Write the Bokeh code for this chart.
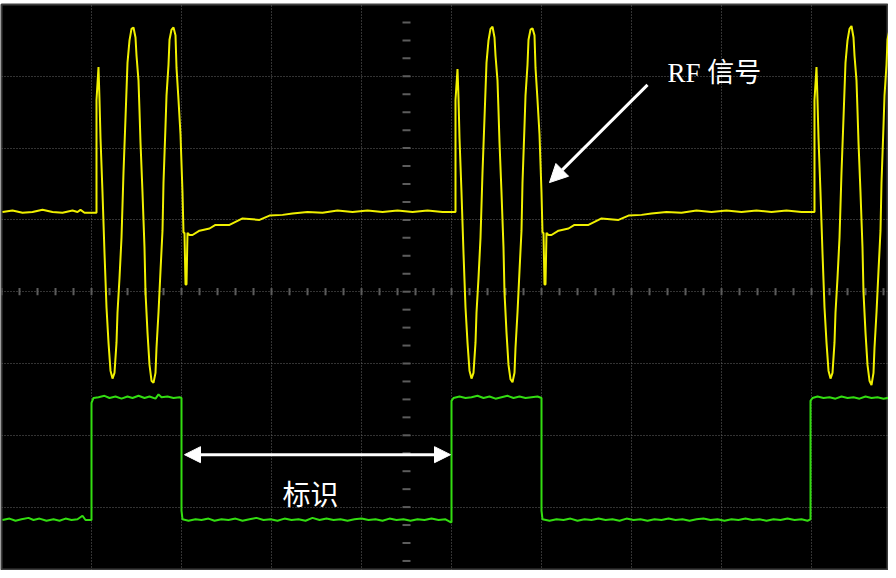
from bokeh.plotting import figure
from bokeh.models import Range1d, FixedTicker, Arrow, NormalHead, Label
from bokeh.embed import file_html
from bokeh.resources import INLINE
import numpy as np

# Oscilloscope record: time in samples (90 samples per division), level in divisions
# Yellow channel: RF signal, three bursts
rf_period1 = [
    (1, 1.11), (11, 1.13), (21, 1.10), (31, 1.11), (41, 1.14), (51, 1.11), (61, 1.10),
    (71, 1.13), (76, 1.11), (79, 1.14), (83, 1.10), (88, 1.10), (94, 1.10),
    (95, 1.10), (95, 2.67), (97, 3.13), (98, 2.67), (99, 2.14), (101, 1.38), (103, 0.54),
    (105, -0.22), (107, -0.71), (109, -1.10), (111, -1.21), (113, -1.13), (115, -0.71),
    (116, -0.29), (118, 0.19), (120, 0.75), (122, 1.66), (124, 2.42), (126, 3.19),
    (128, 3.50), (130, 3.66), (132, 3.68), (134, 3.54), (135, 3.29), (137, 2.94),
    (138, 2.52), (139, 2.08), (141, 1.38), (143, 0.61), (144, -0.01), (146, -0.57),
    (148, -1.02), (150, -1.24), (152, -1.27), (154, -1.13), (155, -0.78), (157, -0.29),
    (159, 0.29), (161, 0.85), (162, 1.52), (164, 2.31), (165, 2.73), (167, 3.16),
    (168, 3.51), (170, 3.65), (172, 3.68), (174, 3.57), (175, 3.12), (177, 2.67),
    (179, 2.19), (181, 1.38), (182, 0.82), (183, 0.82), (184, 0.10), (185, 0.10),
    (186, 0.82), (188, 0.79), (191, 0.79), (198, 0.85), (208, 0.88), (214, 0.93),
    (228, 0.93), (241, 1.02), (258, 1.00), (268, 1.06), (281, 1.07), (291, 1.09),
    (306, 1.11), (321, 1.10), (336, 1.13), (351, 1.11), (366, 1.13), (381, 1.11),
    (396, 1.13), (411, 1.11), (426, 1.13), (441, 1.11), (453, 1.11),
]
rf_period2 = [
    (454, 1.11), (454, 2.67), (456, 3.10), (457, 2.70), (458, 2.14), (460, 1.38), (462, 0.54),
    (464, -0.22), (466, -0.71), (468, -1.10), (470, -1.21), (472, -1.13), (474, -0.71),
    (475, -0.29), (477, 0.19), (479, 0.75), (481, 1.66), (483, 2.42), (485, 3.19),
    (487, 3.50), (489, 3.66), (491, 3.69), (493, 3.54), (494, 3.29), (496, 2.94),
    (497, 2.52), (498, 2.08), (500, 1.38), (502, 0.61), (503, -0.01), (505, -0.57),
    (507, -1.02), (509, -1.22), (511, -1.26), (513, -1.13), (514, -0.78), (516, -0.29),
    (518, 0.29), (520, 0.85), (521, 1.52), (523, 2.31), (524, 2.73), (526, 3.16),
    (527, 3.51), (529, 3.65), (531, 3.67), (533, 3.57), (534, 3.12), (536, 2.67),
    (538, 2.19), (540, 1.38), (541, 0.82), (542, 0.82), (543, 0.10), (544, 0.10),
    (545, 0.82), (547, 0.79), (550, 0.79), (557, 0.85), (567, 0.88), (573, 0.93),
    (587, 0.93), (600, 1.02), (617, 1.00), (627, 1.06), (640, 1.07), (650, 1.09),
    (665, 1.11), (680, 1.10), (695, 1.13), (710, 1.11), (725, 1.13), (740, 1.11),
    (755, 1.13), (770, 1.11), (785, 1.13), (800, 1.11), (812, 1.11),
]
rf_period3 = [
    (813, 1.11), (813, 2.67), (815, 3.13), (816, 2.67), (817, 2.14), (819, 1.38), (821, 0.54),
    (823, -0.22), (825, -0.71), (827, -1.10), (829, -1.21), (831, -1.13), (833, -0.71),
    (834, -0.29), (836, 0.19), (838, 0.75), (840, 1.66), (842, 2.42), (844, 3.19),
    (846, 3.50), (848, 3.66), (850, 3.70), (852, 3.54), (853, 3.29), (855, 2.94),
    (856, 2.52), (857, 2.08), (859, 1.38), (861, 0.61), (862, -0.01), (864, -0.57),
    (866, -1.02), (868, -1.24), (870, -1.30), (872, -1.13), (873, -0.78), (875, -0.29),
    (877, 0.29), (879, 0.85), (880, 1.52), (882, 2.31), (883, 2.73), (885, 3.16),
    (886, 3.51), (888, 3.65), (890, 3.68), (892, 3.57), (893, 3.12),
]

# Green channel: identification (tag) signal
tag_signal = [
    (1, -3.18), (8, -3.16), (14, -3.19), (20, -3.17), (27, -3.15), (32, -3.18), (38, -3.16),
    (45, -3.19), (52, -3.17), (58, -3.19), (64, -3.16), (70, -3.18), (76, -3.17), (81, -3.12),
    (84, -3.18), (89, -3.18),
    (90, -3.18), (90, -1.55), (92, -1.48), (97, -1.47), (103, -1.45), (108, -1.48),
    (114, -1.46), (120, -1.49), (126, -1.46), (131, -1.48), (137, -1.45), (143, -1.48),
    (148, -1.46), (154, -1.49), (157, -1.43), (160, -1.47), (166, -1.46), (172, -1.48),
    (178, -1.47), (180, -1.48),
    (180, -3.05), (181, -3.17), (187, -3.19), (194, -3.17), (200, -3.18), (207, -3.16),
    (213, -3.19), (220, -3.17), (227, -3.18), (234, -3.16), (241, -3.19), (248, -3.17),
    (255, -3.15), (262, -3.18), (269, -3.17), (276, -3.19), (283, -3.16), (290, -3.18),
    (297, -3.17), (304, -3.19), (311, -3.15), (318, -3.18), (325, -3.16), (332, -3.18),
    (339, -3.17), (346, -3.19), (353, -3.17), (360, -3.16), (367, -3.18), (374, -3.17),
    (381, -3.19), (388, -3.16), (395, -3.18), (402, -3.17), (409, -3.19), (416, -3.17),
    (423, -3.18), (430, -3.16), (437, -3.18), (444, -3.17), (449, -3.21),
    (450, -3.21), (450, -1.52), (452, -1.48), (458, -1.46), (464, -1.48), (470, -1.47),
    (476, -1.45), (482, -1.48), (488, -1.46), (494, -1.49), (500, -1.47), (506, -1.45),
    (512, -1.48), (518, -1.46), (524, -1.48), (530, -1.47), (536, -1.46), (540, -1.48),
    (540, -3.05), (541, -3.17), (548, -3.19), (555, -3.17), (562, -3.18), (569, -3.16),
    (576, -3.19), (583, -3.17), (590, -3.18), (597, -3.16), (604, -3.18), (611, -3.17),
    (618, -3.19), (625, -3.16), (632, -3.18), (639, -3.17), (646, -3.19), (653, -3.17),
    (660, -3.18), (667, -3.16), (674, -3.18), (681, -3.17), (688, -3.19), (695, -3.17),
    (702, -3.16), (709, -3.18), (716, -3.17), (723, -3.19), (730, -3.17), (737, -3.18),
    (744, -3.16), (751, -3.18), (758, -3.17), (765, -3.19), (772, -3.17), (779, -3.18),
    (786, -3.16), (793, -3.18), (800, -3.17), (806, -3.19), (809, -3.17),
    (809, -1.52), (811, -1.48), (816, -1.46), (822, -1.48), (828, -1.47), (834, -1.49),
    (840, -1.46), (846, -1.48), (852, -1.47), (858, -1.49), (864, -1.46), (870, -1.48),
    (876, -1.47), (882, -1.49), (890, -1.47),
]

# Annotations (same units)
tag_arrow = (183, 449, -2.27)          # x_start, x_end, level
tag_label = (309, -2.80, "标识")
rf_arrow = (646, 2.88, 548, 1.52)      # from (x, y) to (x, y)
rf_label = (666, 3.05, "RF 信号")

SAMPLES_PER_DIV = 90
X_MAX = 887
Y_MIN, Y_MAX = -3.883, 4.0

p = figure(width=888, height=570, output_backend="svg", toolbar_location=None,
           x_range=Range1d(0, X_MAX), y_range=Range1d(Y_MIN, Y_MAX),
           min_border_left=1, min_border_right=0, min_border_top=4, min_border_bottom=0,
           background_fill_color="black", border_fill_color="white")
p.outline_line_color = "#3e3e3e"
p.outline_line_width = 2
p.xaxis.visible = False
p.yaxis.visible = False
p.xgrid.ticker = FixedTicker(ticks=[SAMPLES_PER_DIV * k for k in range(1, 10)])
p.ygrid.ticker = FixedTicker(ticks=[-3, -2, -1, 0, 1, 2, 3])
for g in (p.xgrid, p.ygrid):
    g.grid_line_color = "#666666"
    g.grid_line_dash = "1 2"
    g.grid_line_width = 1

# graticule ticks on the centre lines
cx = 4.5 * SAMPLES_PER_DIV
hx = np.arange(0, X_MAX + 1, SAMPLES_PER_DIV / 5)
p.segment(x0=hx, y0=-0.05, x1=hx, y1=0.05, line_color="#5c5c5c", line_width=2)
vy = np.arange(-3.75, 4.0, 0.25)
p.segment(x0=cx - 4, y0=vy, x1=cx + 4, y1=vy, line_color="#5c5c5c", line_width=2)

rf_all = rf_period1 + rf_period2 + rf_period3
p.line([a for a, b in rf_all], [b for a, b in rf_all], line_color="#f0f000", line_width=2)
p.line([a for a, b in tag_signal], [b for a, b in tag_signal], line_color="#33dd11", line_width=2)

head = dict(size=16, fill_color="white", line_color="white")
p.add_layout(Arrow(start=NormalHead(**head), end=NormalHead(**head),
                   x_start=tag_arrow[0], x_end=tag_arrow[1], y_start=tag_arrow[2], y_end=tag_arrow[2],
                   line_color="white", line_width=3))
p.add_layout(Arrow(end=NormalHead(size=18, fill_color="white", line_color="white"),
                   x_start=rf_arrow[0], y_start=rf_arrow[1], x_end=rf_arrow[2], y_end=rf_arrow[3],
                   line_color="white", line_width=3))
p.add_layout(Label(x=tag_label[0], y=tag_label[1], text=tag_label[2], text_color="white",
                   text_font="Noto Sans CJK SC", text_font_size="28px",
                   text_align="center", text_baseline="middle"))
p.add_layout(Label(x=rf_label[0], y=rf_label[1], text=rf_label[2], text_color="white",
                   text_font="'Liberation Serif', 'Noto Sans CJK SC'", text_font_size="27px",
                   text_align="left", text_baseline="middle"))

open("out.html", "w").write(file_html(p, INLINE))
